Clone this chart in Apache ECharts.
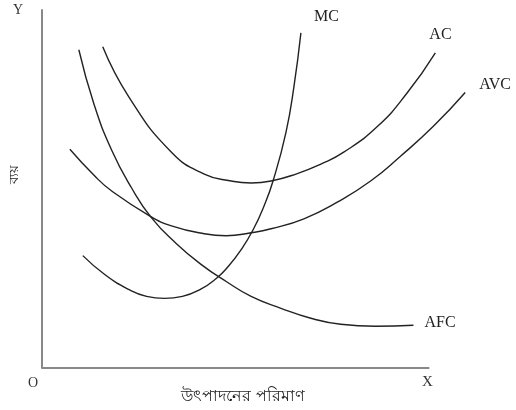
<!DOCTYPE html>
<html>
<head>
<meta charset="utf-8">
<script src="https://cdn.jsdelivr.net/npm/echarts@6/dist/echarts.min.js"></script>
<style>
  html, body {margin: 0; padding: 0; background: #fff;}
  #chart {width: 516px; height: 410px;}
</style>
</head>
<body>
<div id="chart"></div>
<script>
// quantity (x) and cost (y), units = px from origin
const mcQ  = [41, 63, 87, 105, 123, 141, 159, 175, 187, 200, 212, 223, 232, 245, 253, 260];
const mcC  = [113, 94, 79, 72, 70, 72, 79, 90, 102, 119, 139, 163, 188, 237, 283, 337];

const acQ  = [61, 87, 130, 163, 190, 210, 230, 255, 280, 303, 337, 367, 395];
const acC  = [323, 273, 217, 195, 188, 186, 188, 195, 205, 217, 243, 277, 317];

const avcQ = [28, 53, 70, 108, 130, 163, 185, 210, 230, 263, 297, 330, 360, 393, 425];
const avcC = [220, 193, 178, 153, 143, 135, 133, 136, 140, 150, 167, 188, 213, 243, 277];

const afcQ = [37, 52, 70, 90, 110, 135, 160, 185, 210, 240, 270, 300, 335, 373];
const afcC = [320, 266, 219, 181, 151, 125, 104, 87, 72, 60, 50, 44, 42, 43];

const xAxisEnd = 389;   // where the drawn X axis stops
const xMax = 476, yMax = 360;
const serif = '"Liberation Serif", "DejaVu Serif", serif';

const pairs = (q, c) => q.map((v, i) => [v, c[i]]);

const chart = echarts.init(document.getElementById('chart'));

function curve(name, q, c, off) {
  return {
    name: name,
    type: 'line',
    data: pairs(q, c),
    smooth: true,
    showSymbol: false,
    clip: false,
    silent: true,
    lineStyle: {color: '#222', width: 1.4},
    endLabel: {
      show: true,
      formatter: '{a}',
      distance: 0,
      offset: off,
      fontFamily: serif,
      fontSize: 16,
      color: '#222'
    }
  };
}

const mc = curve('MC', mcQ, mcC, [13, -16]);
// the X axis line, only as long as in the picture
mc.markLine = {
  silent: true,
  symbol: 'none',
  label: {show: false},
  lineStyle: {color: '#888', width: 2, type: 'solid'},
  data: [[{coord: [0, 0]}, {coord: [xAxisEnd, 0]}]]
};

chart.setOption({
  animation: false,
  backgroundColor: '#fff',
  grid: {left: 40, top: 10, width: 476, height: 360},
  xAxis: {
    type: 'value', min: 0, max: xMax,
    name: 'উৎপাদনের পরিমাণ',
    nameLocation: 'middle',
    nameGap: 21,
    nameTextStyle: {fontSize: 16, color: '#222', padding: [0, 72, 0, 0]},
    axisLine: {show: false},
    axisTick: {show: false},
    axisLabel: {show: false},
    splitLine: {show: false}
  },
  yAxis: {
    type: 'value', min: 0, max: yMax,
    name: 'ব্যয়',
    nameLocation: 'middle',
    nameGap: 21,
    nameRotate: 90,
    nameTextStyle: {fontSize: 13, color: '#222', padding: [0, 0, 0, 30]},
    axisLine: {onZero: false, lineStyle: {color: '#888', width: 2}},
    axisTick: {show: false},
    axisLabel: {show: false},
    splitLine: {show: false}
  },
  graphic: [
    {type: 'text', left: 13, top: 3, style: {text: 'Y', font: '14px ' + serif, fill: '#333'}},
    {type: 'text', left: 28, top: 376, style: {text: 'O', font: '14px ' + serif, fill: '#333'}},
    {type: 'text', left: 422, top: 375, style: {text: 'X', font: '15px ' + serif, fill: '#333'}}
  ],
  series: [
    mc,
    curve('AC', acQ, acC, [-6, -18]),
    curve('AVC', avcQ, avcC, [14, -8]),
    curve('AFC', afcQ, afcC, [11, -2])
  ]
});
</script>
</body>
</html>
